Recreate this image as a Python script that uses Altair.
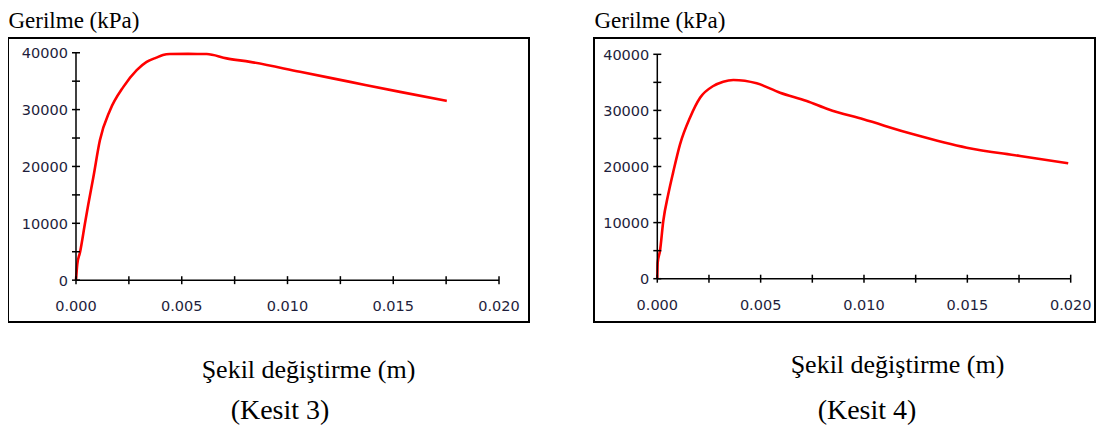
import altair as alt
import pandas as pd

# ---- data ----
# Kesit 3
strain3 = [0, 0.00003, 0.00006, 0.00019, 0.000425, 0.00058, 0.00082, 0.00113, 0.00161,
           0.00224, 0.00287, 0.00334, 0.0038, 0.00411, 0.00444, 0.0053, 0.00618, 0.00712,
           0.00823, 0.01059, 0.01296, 0.01532, 0.01753]
stress3 = [0, 1500, 2800, 4900, 10000, 13300, 18100, 24600, 29900,
           34000, 36950, 38400, 39150, 39600, 39770, 39800, 39770, 39010,
           38400, 36650, 34880, 33120, 31530]
# Kesit 4
strain4 = [0, 0.00002, 0.00013, 0.00029, 0.00053, 0.00077, 0.0011, 0.00158, 0.00207,
           0.00271, 0.00319, 0.00368, 0.00481, 0.00594, 0.00723, 0.00827, 0.00997,
           0.01239, 0.01497, 0.01755, 0.01988]
stress4 = [0, 2850, 4940, 10290, 15040, 19000, 23960, 28700, 32260,
           34350, 35120, 35420, 34830, 33160, 31680, 30200, 28410,
           25740, 23350, 21870, 20570]

x_ticks = [0.0, 0.0025, 0.005, 0.0075, 0.01, 0.0125, 0.015, 0.0175, 0.02]
x_label_values = [0.0, 0.005, 0.01, 0.015, 0.02]
x_labels = ["0.000", "0.005", "0.010", "0.015", "0.020"]
y_ticks = [0, 5000, 10000, 15000, 20000, 25000, 30000, 35000, 40000]
y_label_values = [0, 10000, 20000, 30000, 40000]
y_labels = ["0", "10000", "20000", "30000", "40000"]

y_title = "Gerilme (kPa)"
x_title = "Şekil değiştirme (m)"
panel_titles = ["(Kesit 3)", "(Kesit 4)"]

SERIF = "Liberation Serif"
SANS = "DejaVu Sans"
LABEL_COLOR = "#1e1e3c"


def panel(strain, stress, xdom, ydom, width, height, xtitle_x, xtitle_y,
          ptitle, ptitle_dx, ptitle_offset):
    xs = alt.Scale(domain=xdom, nice=False, zero=False)
    ys = alt.Scale(domain=ydom, nice=False, zero=False)
    xaxis = alt.Axis(title=x_title, domain=False, ticks=False, labels=False, grid=False,
                     titleFont=SERIF, titleFontSize=26, titleFontWeight="normal",
                     titleColor="black", titleX=xtitle_x, titleY=xtitle_y,
                     titleAlign="center", titleBaseline="alphabetic")
    yaxis = alt.Axis(title=y_title, domain=False, ticks=False, labels=False, grid=False,
                     titleFont=SERIF, titleFontSize=23, titleFontWeight="normal",
                     titleColor="black", titleAngle=0, titleX=0, titleY=-11,
                     titleAlign="left", titleBaseline="alphabetic")

    def X(f):
        return alt.X(f, type="quantitative", scale=xs, axis=xaxis)

    def Y(f):
        return alt.Y(f, type="quantitative", scale=ys, axis=yaxis)

    line_df = pd.DataFrame({"strain": strain, "stress": stress})
    xaxis_df = pd.DataFrame({"x": [x_ticks[0]], "x2": [x_ticks[-1]], "y": [0]})
    yaxis_df = pd.DataFrame({"x": [0], "y": [y_ticks[0]], "y2": [y_ticks[-1]]})
    xtick_df = pd.DataFrame({"x": x_ticks, "y": [0] * len(x_ticks)})
    ytick_df = pd.DataFrame({"x": [0] * len(y_ticks), "y": y_ticks})
    xlab_df = pd.DataFrame({"x": x_label_values, "y": [0] * len(x_label_values), "t": x_labels})
    ylab_df = pd.DataFrame({"x": [0] * len(y_label_values), "y": y_label_values, "t": y_labels})

    line = alt.Chart(line_df).mark_line(color="#ff0000", strokeWidth=2.6,
                                        interpolate="monotone").encode(
        x=X("strain"), y=Y("stress"))
    xline = alt.Chart(xaxis_df).mark_rule(color="black", strokeWidth=1.5).encode(
        x=X("x"), x2=alt.X2("x2"), y=Y("y"))
    yline = alt.Chart(yaxis_df).mark_rule(color="black", strokeWidth=1.5).encode(
        x=X("x"), y=Y("y"), y2=alt.Y2("y2"))
    xt = alt.Chart(xtick_df).mark_tick(orient="vertical", size=8, thickness=1.5,
                                       color="black", opacity=1).encode(x=X("x"), y=Y("y"))
    yt = alt.Chart(ytick_df).mark_tick(orient="horizontal", size=8, thickness=1.5,
                                       color="black", opacity=1).encode(x=X("x"), y=Y("y"))
    xl = alt.Chart(xlab_df).mark_text(font=SANS, fontSize=14.5, color=LABEL_COLOR,
                                      align="center", baseline="middle", dy=27).encode(
        x=X("x"), y=Y("y"), text="t:N")
    yl = alt.Chart(ylab_df).mark_text(font=SANS, fontSize=14.5, color=LABEL_COLOR,
                                      align="right", baseline="middle", dx=-8, dy=1.5).encode(
        x=X("x"), y=Y("y"), text="t:N")

    return alt.layer(line, xline, yline, xt, yt, xl, yl).properties(
        width=width, height=height,
        title=alt.TitleParams(ptitle, orient="bottom", anchor="middle", frame="group",
                              font=SERIF, fontSize=28, fontWeight="normal", color="black",
                              dx=ptitle_dx, offset=ptitle_offset))


left = panel(strain3, stress3, [-0.003215, 0.021418], [-7361, 42595], 521, 284,
             300, 55, panel_titles[0], 11.5, 15)
right = panel(strain4, stress4, [-0.003062, 0.021176], [-7718, 42906], 501, 284,
              303, 50, panel_titles[1], 22.5, 20)

chart = alt.hconcat(left, right, spacing=63).properties(
    padding={"left": -1, "top": 0, "right": 0, "bottom": 0}
).configure_view(stroke="black", strokeWidth=2)

chart.save("out.html", embed_options={"renderer": "svg", "actions": False})
